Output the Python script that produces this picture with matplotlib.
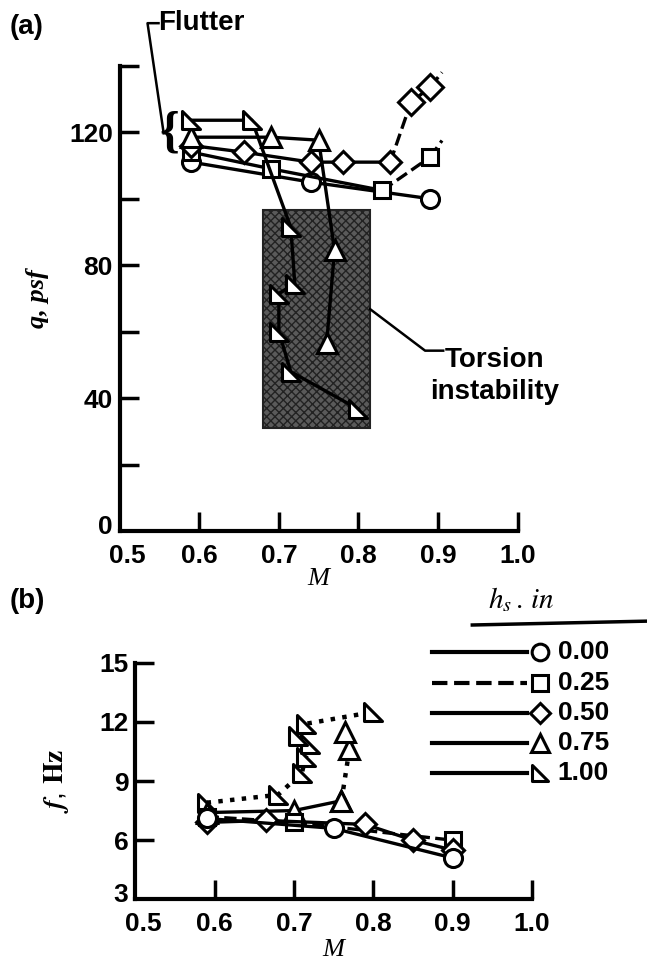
import matplotlib
matplotlib.use("Agg")
import matplotlib.pyplot as plt
from matplotlib.patches import Rectangle
from matplotlib.lines import Line2D
from matplotlib.path import Path
from matplotlib.transforms import ScaledTranslation

plt.rcParams['font.family'] = ['Liberation Sans', 'DejaVu Sans']
plt.rcParams['mathtext.fontset'] = 'stix'

# ---------------- data ----------------
hs_labels = ["0.00", "0.25", "0.50", "0.75", "1.00"]

# (a) dynamic pressure q, psf vs Mach
qa_M_000 = [0.59, 0.74, 0.89]
qa_q_000 = [111, 105, 100]
qa_M_025 = [0.59, 0.69, 0.83]
qa_q_025 = [114, 109, 102.5]
qa_M_025_up = [0.83, 0.89, 0.905]
qa_q_025_up = [102.5, 112.5, 117.5]
qa_M_050 = [0.59, 0.656, 0.74, 0.78, 0.84]
qa_q_050 = [116, 114, 111, 111, 111]
qa_M_050_up = [0.84, 0.866, 0.89, 0.905]
qa_q_050_up = [111, 129, 133.5, 138]
qa_M_075 = [0.59, 0.69, 0.75]
qa_q_075 = [118.5, 118.5, 117.6]
qa_M_075_tor = [0.77, 0.76]
qa_q_075_tor = [84.5, 56.5]
qa_M_100 = [0.59, 0.666]
qa_q_100 = [123.6, 123.6]
qa_M_100_tor = [0.715, 0.72, 0.70, 0.70, 0.715, 0.80]
qa_q_100_tor = [91.4, 74.5, 71.5, 60, 48, 36.7]
torsion_M = [0.68, 0.815]
torsion_q = [31, 96.5]

# (b) frequency f, Hz vs Mach
fb_M_000 = [0.59, 0.75, 0.90]
fb_f_000 = [7.1, 6.6, 5.1]
fb_M_025 = [0.59, 0.70, 0.90]
fb_f_025 = [7.2, 6.9, 6.0]
fb_M_050 = [0.59, 0.665, 0.79, 0.85, 0.90]
fb_f_050 = [6.9, 7.0, 6.8, 6.0, 5.5]
fb_M_075 = [0.59, 0.70, 0.76]
fb_f_075 = [7.4, 7.5, 8.0]
fb_M_075_tor = [0.76, 0.77, 0.765]
fb_f_075_tor = [8.0, 10.6, 11.5]
fb_M_100 = [0.59, 0.68, 0.71, 0.715, 0.72, 0.705, 0.715, 0.80]
fb_f_100 = [7.9, 8.3, 9.4, 10.2, 10.9, 11.3, 11.9, 12.5]

# ---------------- styling ----------------
rtri = Path([(-1, 1), (-1, -1), (1, -1), (-1, 1)],
            [Path.MOVETO, Path.LINETO, Path.LINETO, Path.CLOSEPOLY])
markers = ['o', 's', 'D', '^', rtri]
msizes = [13, 12, 11, 14, 13]
LW = 2.4
mk = dict(mfc='white', mec='black', mew=2.2, color='black')

fig = plt.figure(figsize=(6.47, 9.66), dpi=100)
ax1 = fig.add_axes([0.185, 0.450, 0.615, 0.482])
ax2 = fig.add_axes([0.209, 0.069, 0.613, 0.245])

def style_axes(ax, xlim, ylim, yticks, ylabels):
    ax.set_xlim(*xlim)
    ax.set_ylim(*ylim)
    for s in ['top', 'right']:
        ax.spines[s].set_visible(False)
    for s in ['left', 'bottom']:
        ax.spines[s].set_linewidth(3)
    ax.set_xticks([0.5, 0.6, 0.7, 0.8, 0.9, 1.0])
    ax.set_xticklabels(["0.5", "0.6", "0.7", "0.8", "0.9", "1.0"])
    ax.set_yticks(yticks)
    ax.set_yticklabels(ylabels)
    ax.tick_params(direction='in', length=14, width=2.5, labelsize=19)
    ax.tick_params(axis='x', pad=9)
    ax.tick_params(axis='y', pad=5)
    for t in ax.get_xticklabels() + ax.get_yticklabels():
        t.set_fontweight('bold')

style_axes(ax1, (0.5, 1.0), (0, 140), [0, 20, 40, 60, 80, 100, 120, 140],
           ["0", "", "40", "", "80", "", "120", ""])
style_axes(ax2, (0.5, 1.0), (3, 15), [3, 6, 9, 12, 15],
           ["3", "6", "9", "12", "15"])
for ax in (ax1, ax2):
    ax.xaxis.get_major_ticks()[0].tick1line.set_visible(False)
    ax.yaxis.get_major_ticks()[0].tick1line.set_visible(False)
    xl = ax.get_xticklabels()[0]
    xl.set_transform(xl.get_transform() + ScaledTranslation(8 / 100, 0, fig.dpi_scale_trans))
    yl = ax.get_yticklabels()[0]
    yl.set_transform(yl.get_transform() + ScaledTranslation(0, 7 / 100, fig.dpi_scale_trans))

# ---------------- panel (a) ----------------
ax1.add_patch(Rectangle((torsion_M[0], torsion_q[0]), torsion_M[1] - torsion_M[0],
                        torsion_q[1] - torsion_q[0], facecolor='#5a5a5a',
                        edgecolor='#222222', hatch='xxxx', lw=1.5, zorder=1))

ax1.plot(qa_M_000, qa_q_000, '-', lw=LW, marker=markers[0], ms=msizes[0], **mk, zorder=5)
ax1.plot(qa_M_025_up[:2], qa_q_025_up[:2], '--', lw=LW, color='black', zorder=4)
ax1.plot(qa_M_025_up[1:], qa_q_025_up[1:], ':', lw=LW, color='black', zorder=4)
ax1.plot(qa_M_025, qa_q_025, '-', lw=LW, marker=markers[1], ms=msizes[1], **mk, zorder=5)
ax1.plot(qa_M_025_up[1:2], qa_q_025_up[1:2], ls='none', marker=markers[1], ms=msizes[1], **mk, zorder=5)
ax1.plot(qa_M_050_up, qa_q_050_up, '--', lw=LW, color='black', zorder=4)
ax1.plot(qa_M_050_up[1:3], qa_q_050_up[1:3], ls='none', marker=markers[2], ms=msizes[2] + 2, **mk, zorder=5)
ax1.plot(qa_M_050, qa_q_050, '-', lw=LW, marker=markers[2], ms=msizes[2], **mk, zorder=5)
ax1.plot(qa_M_075 + qa_M_075_tor, qa_q_075 + qa_q_075_tor, '-', lw=LW,
         marker=markers[3], ms=msizes[3], **mk, zorder=5)
ax1.plot(qa_M_100 + qa_M_100_tor, qa_q_100 + qa_q_100_tor, '-', lw=LW,
         marker=markers[4], ms=msizes[4], **mk, zorder=5)

ax1.set_xlabel("M", fontsize=19, family='Liberation Serif', style='italic', labelpad=0)
ax1.set_ylabel("q, psf", fontsize=19, family='Liberation Serif', style='italic',
               fontweight='bold', labelpad=14)

# ---------------- panel (b) ----------------
ax2.plot(fb_M_100, fb_f_100, ':', lw=LW + 0.8, marker=markers[4], ms=msizes[4], **mk, zorder=4)
ax2.plot(fb_M_075_tor, fb_f_075_tor, ':', lw=LW + 0.8, marker=markers[3], ms=msizes[3], **mk, zorder=4)
ax2.plot(fb_M_075, fb_f_075, '-', lw=LW, marker=markers[3], ms=msizes[3], **mk, zorder=5)
ax2.plot(fb_M_025, fb_f_025, '--', lw=LW, marker=markers[1], ms=msizes[1], **mk, zorder=5)
ax2.plot(fb_M_050, fb_f_050, '-', lw=LW, marker=markers[2], ms=msizes[2], **mk, zorder=5)
ax2.plot(fb_M_000, fb_f_000, '-', lw=LW, marker=markers[0], ms=msizes[0], **mk, zorder=6)

ax2.set_xlabel("M", fontsize=19, family='Liberation Serif', style='italic', labelpad=2)
ax2.set_ylabel(r"$\mathbfit{f}$, $\mathbf{Hz}$", fontsize=20, labelpad=20)

# ---------------- annotations ----------------
fig.text(0.015, 0.972, "(a)", fontsize=20, fontweight='bold', va='center')
fig.text(0.015, 0.378, "(b)", fontsize=20, fontweight='bold', va='center')
fig.text(0.245, 0.976, "Flutter", fontsize=20, fontweight='bold', va='center')
fig.text(0.687, 0.627, "Torsion", fontsize=20, fontweight='bold', va='center')
fig.text(0.665, 0.594, "instability", fontsize=20, fontweight='bold', va='center')
fig.add_artist(Line2D([0.245, 0.228, 0.253], [0.976, 0.976, 0.862],
                      transform=fig.transFigure, color='black', lw=1.8))
fig.text(0.262, 0.862, "{", fontsize=36, va='center', ha='center',
         family='Liberation Serif', fontweight='bold')
fig.add_artist(Line2D([0.572, 0.657, 0.685], [0.680, 0.637, 0.637],
                      transform=fig.transFigure, color='black', lw=1.8))

# legend (drawn manually in figure coordinates)
fig.text(0.805, 0.379, r"$h_s\,.\,in$", fontsize=21, ha='center', va='center')
fig.add_artist(Line2D([0.73, 1.0], [0.353, 0.357], transform=fig.transFigure,
                      color='black', lw=2.5))
styles = ['-', '--', '-', '-', '-']
ys = [0.325, 0.293, 0.262, 0.231, 0.200]
for i in range(5):
    fig.add_artist(Line2D([0.668, 0.815], [ys[i], ys[i]], transform=fig.transFigure,
                          color='black', lw=3, ls=styles[i]))
    fig.add_artist(Line2D([0.835], [ys[i]], transform=fig.transFigure, ls='none',
                          marker=markers[i], ms=msizes[i] - 1, mfc='white', mec='black', mew=2.2))
    fig.text(0.862, ys[i], hs_labels[i], fontsize=19, fontweight='bold', va='center')

fig.savefig("out.png", dpi=100)
